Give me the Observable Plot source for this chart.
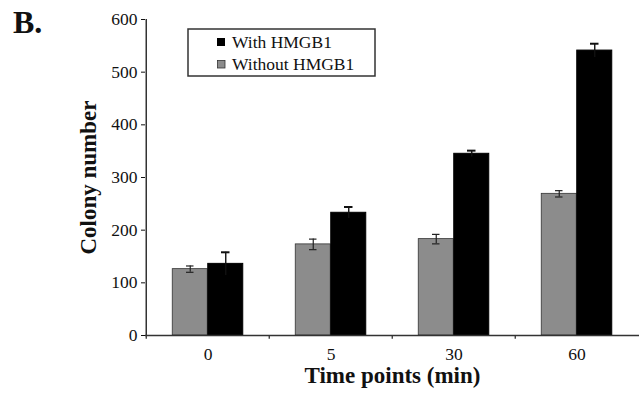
<!DOCTYPE html>
<html>
<head>
<meta charset="utf-8">
<script src="https://cdn.jsdelivr.net/npm/d3@7"></script>
<script src="https://cdn.jsdelivr.net/npm/@observablehq/plot@0.6"></script>
<style>
  body { margin: 0; background: #fff; }
  #wrap { position: relative; width: 639px; height: 394px; font-family: "Liberation Serif", "Times New Roman", serif; }
  #wrap svg.plot text { font-family: "Liberation Serif", "Times New Roman", serif; }
  g[aria-label="y-axis label"] text, g[aria-label="x-axis label"] text { font-size: 23px; font-weight: bold; fill: #111; }
  #overlay { position: absolute; left: 0; top: 0; pointer-events: none; }
</style>
</head>
<body>
<div id="wrap"></div>
<script>
const categories = ["0", "5", "30", "60"];
const withoutHMGB1 = [126, 173, 183, 269];
const withHMGB1 = [136, 233, 345, 541];
const withoutErr = [6, 10, 9, 6];
const withErr = [22, 11, 6, 13];
const yTicks = [0, 100, 200, 300, 400, 500, 600];
const seriesNames = ["With HMGB1", "Without HMGB1"];

const W = 639, H = 394, mL = 145, mR = 0, mT = 19, mB = 59;
const bw = (W - mL - mR) / categories.length;
const barW = 35.5;
const half = bw / 2;

const gray = categories.map((c, i) => ({cat: c, v: withoutHMGB1[i], e: withoutErr[i]}));
const black = categories.map((c, i) => ({cat: c, v: withHMGB1[i], e: withErr[i]}));

const plot = Plot.plot({
  width: W, height: H,
  marginLeft: mL, marginRight: mR, marginTop: mT, marginBottom: mB,
  style: {fontSize: "17.5px", fontFamily: "Liberation Serif, serif", color: "#111", background: "#fff"},
  x: {type: "band", domain: categories, padding: 0},
  y: {domain: [0, 600]},
  marks: [
    Plot.barY(gray, {x: "cat", y: "v", fill: "#8c8c8c", stroke: "#333", strokeWidth: 0.8,
      insetLeft: half - barW, insetRight: half}),
    Plot.barY(black, {x: "cat", y: "v", fill: "#000", stroke: "#000",
      insetLeft: half, insetRight: half - barW}),
    // error bars
    Plot.ruleX(gray, {x: "cat", y1: d => d.v - d.e, y2: d => d.v + d.e, dx: -barW / 2, stroke: "#222", strokeWidth: 1.2}),
    Plot.tickY(gray, {x: "cat", y: d => d.v - d.e, dx: -barW / 2, insetLeft: half - 4, insetRight: half - 4, stroke: "#222", strokeWidth: 1.2}),
    Plot.tickY(gray, {x: "cat", y: d => d.v + d.e, dx: -barW / 2, insetLeft: half - 4, insetRight: half - 4, stroke: "#222", strokeWidth: 1.2}),
    Plot.ruleX(black, {x: "cat", y1: d => d.v - d.e, y2: d => d.v + d.e, dx: barW / 2, stroke: "#111", strokeWidth: 1.4}),
    Plot.tickY(black, {x: "cat", y: d => d.v + d.e, dx: barW / 2, insetLeft: half - 4.5, insetRight: half - 4.5, stroke: "#111", strokeWidth: 2}),
    // axes lines
    Plot.ruleY([0], {stroke: "#333", strokeWidth: 1.5}),
    Plot.ruleX([categories[0]], {x: d => d, y1: 0, y2: 600, dx: -half, stroke: "#333", strokeWidth: 1.5}),
    Plot.ruleX(categories, {x: d => d, y1: 0, y2: -7, dx: -half, stroke: "#333", strokeWidth: 1.3}),
    Plot.axisY({ticks: yTicks, tickSize: 4, tickPadding: 4, tickFormat: d => String(d),
      label: "Colony number", labelAnchor: "center", labelArrow: "none", labelOffset: 66}),
    Plot.axisX({tickSize: 0, tickPadding: 12, label: "Time points (min)", labelAnchor: "center", labelArrow: "none", labelOffset: 47})
  ]
});
plot.classList.add("plot");
const wrap = document.getElementById("wrap");
wrap.appendChild(plot);

// overlay: panel letter and legend
const ns = "http://www.w3.org/2000/svg";
const ov = document.createElementNS(ns, "svg");
ov.setAttribute("id", "overlay");
ov.setAttribute("width", W);
ov.setAttribute("height", H);
function el(tag, attrs, text) {
  const e = document.createElementNS(ns, tag);
  for (const k in attrs) e.setAttribute(k, attrs[k]);
  if (text != null) e.textContent = text;
  ov.appendChild(e);
  return e;
}
el("text", {x: 13, y: 33, "font-size": 32, "font-weight": "bold", "font-family": "Liberation Serif, serif", fill: "#111"}, "B.");
el("rect", {x: 188, y: 29, width: 187, height: 47, fill: "#fff", stroke: "#333", "stroke-width": 1.5});
el("rect", {x: 217, y: 38, width: 8, height: 8, fill: "#000"});
el("text", {x: 232, y: 48, "font-size": 17.5, "font-family": "Liberation Serif, serif", fill: "#111"}, seriesNames[0]);
el("rect", {x: 217.5, y: 60.5, width: 7.5, height: 7.5, fill: "#8c8c8c", stroke: "#333", "stroke-width": 0.8});
el("text", {x: 232, y: 70, "font-size": 17.5, "font-family": "Liberation Serif, serif", fill: "#111"}, seriesNames[1]);
wrap.appendChild(ov);
</script>
</body>
</html>
